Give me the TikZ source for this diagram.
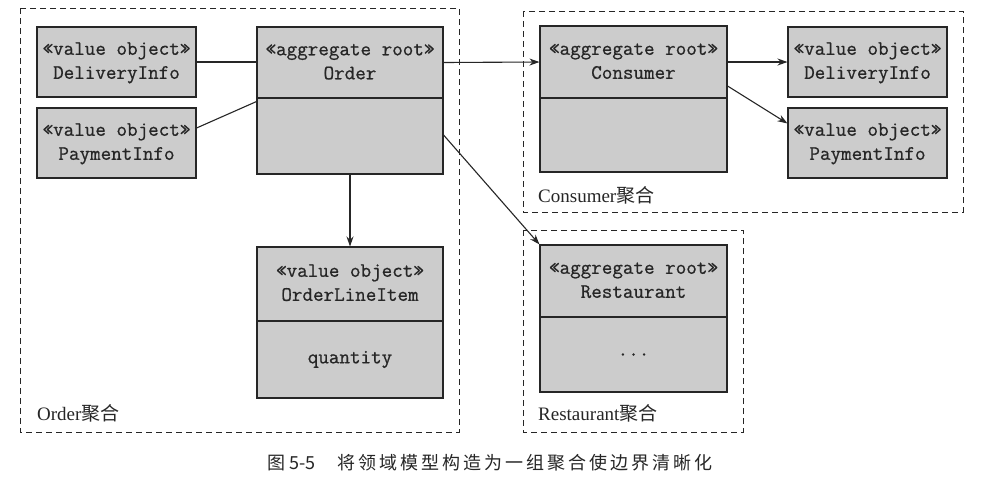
\documentclass[tikz,border=0pt]{standalone}
\usepackage{fontspec}
\setmainfont{Liberation Serif}
\setmonofont{Latin Modern Mono}[FakeBold=0.8]
\newfontfamily\cjk{Noto Sans CJK SC}
\usetikzlibrary{arrows.meta}
\definecolor{boxfill}{gray}{0.80}
\definecolor{ink}{gray}{0.15}
\newcommand{\twoline}[2]{\raisebox{-5pt}{\begin{tabular}{@{}c@{}}#1\\#2\end{tabular}}}
\tikzset{
  cls/.style={draw=ink, line width=1.1pt, fill=boxfill, inner sep=0pt, align=center,
    font=\fontsize{20.5}{24}\selectfont\ttfamily, text=ink},
  aggbox/.style={draw=ink, line width=1pt, dash pattern=on 6pt off 4pt},
  agglabel/.style={anchor=west, inner sep=0pt, font=\fontsize{19}{22}\selectfont, text=ink},
  conn/.style={draw=ink, line width=1.1pt},
  arr/.style={conn, -{Stealth[length=10pt,width=7pt]}},
}
\begin{document}
\begin{tikzpicture}[x=1pt,y=-1pt]
\useasboundingbox[fill=white] (0,0) rectangle (981,491);
% aggregate boundaries
\draw[aggbox] (20,8) rectangle (459,432);
\draw[aggbox] (523,11) rectangle (963,212);
\draw[aggbox] (523,230) rectangle (743,432);
% Order aggregate
\node[cls, minimum width=159pt, minimum height=70pt] (dil) at (116.5,62) {\twoline{«value object»}{DeliveryInfo}};
\node[cls, minimum width=159pt, minimum height=70pt] (pil) at (116.5,143) {\twoline{«value object»}{PaymentInfo}};
\node[cls, minimum width=186pt, minimum height=71pt] (order) at (350,62.5) {\twoline{«aggregate root»}{Order}};
\node[cls, minimum width=186pt, minimum height=76pt] (orderb) at (350,136) {};
\node[cls, minimum width=186pt, minimum height=74pt] (oli) at (350,284) {\twoline{«value object»}{OrderLineItem}};
\node[cls, minimum width=186pt, minimum height=77pt] (olib) at (350,359.5) {quantity};
\node[agglabel] (orderlab) at (37,413) {Order{\cjk 聚合}};
% Consumer aggregate
\node[cls, minimum width=187pt, minimum height=72pt] (consumer) at (633.5,62) {\twoline{«aggregate root»}{Consumer}};
\node[cls, minimum width=187pt, minimum height=74pt] (consumerb) at (633.5,135) {};
\node[cls, minimum width=159pt, minimum height=70pt] (dir) at (867.5,62) {\twoline{«value object»}{DeliveryInfo}};
\node[cls, minimum width=159pt, minimum height=70pt] (pir) at (867.5,143) {\twoline{«value object»}{PaymentInfo}};
\node[agglabel] (consumerlab) at (538,195) {Consumer{\cjk 聚合}};
% Restaurant aggregate
\node[cls, minimum width=187pt, minimum height=72pt] (rest) at (633.5,281) {\twoline{«aggregate root»}{Restaurant}};
\node[cls, minimum width=187pt, minimum height=75pt] (restb) at (633.5,354.5) {...};
\node[agglabel] (restlab) at (538,413) {Restaurant{\cjk 聚合}};
% connectors
\draw[conn] (dil.east) -- (dil.east -| order.west);
\draw[conn] (pil.east) ++(0,-15) coordinate (pa) -- ([yshift=-3pt]order.south west);
\draw[arr] (order.east) -- (consumer.west);
\draw[arr] (consumer.east) -- (dir.west);
\draw[arr] ([yshift=-24pt]consumer.east) -- ([yshift=-16pt]pir.north west);
\draw[arr] (orderb.south) -- (oli.north);
\draw[arr] ([yshift=1pt]orderb.east) -- (rest.north west);
% caption
\node[inner sep=0pt, text=ink, font=\cjk\fontsize{18}{22}\selectfont] (caption) at (490,463)
  {图 5-5\hspace{1.2em}将\,领\,域\,模\,型\,构\,造\,为\,一\,组\,聚\,合\,使\,边\,界\,清\,晰\,化};
\end{tikzpicture}
\end{document}
